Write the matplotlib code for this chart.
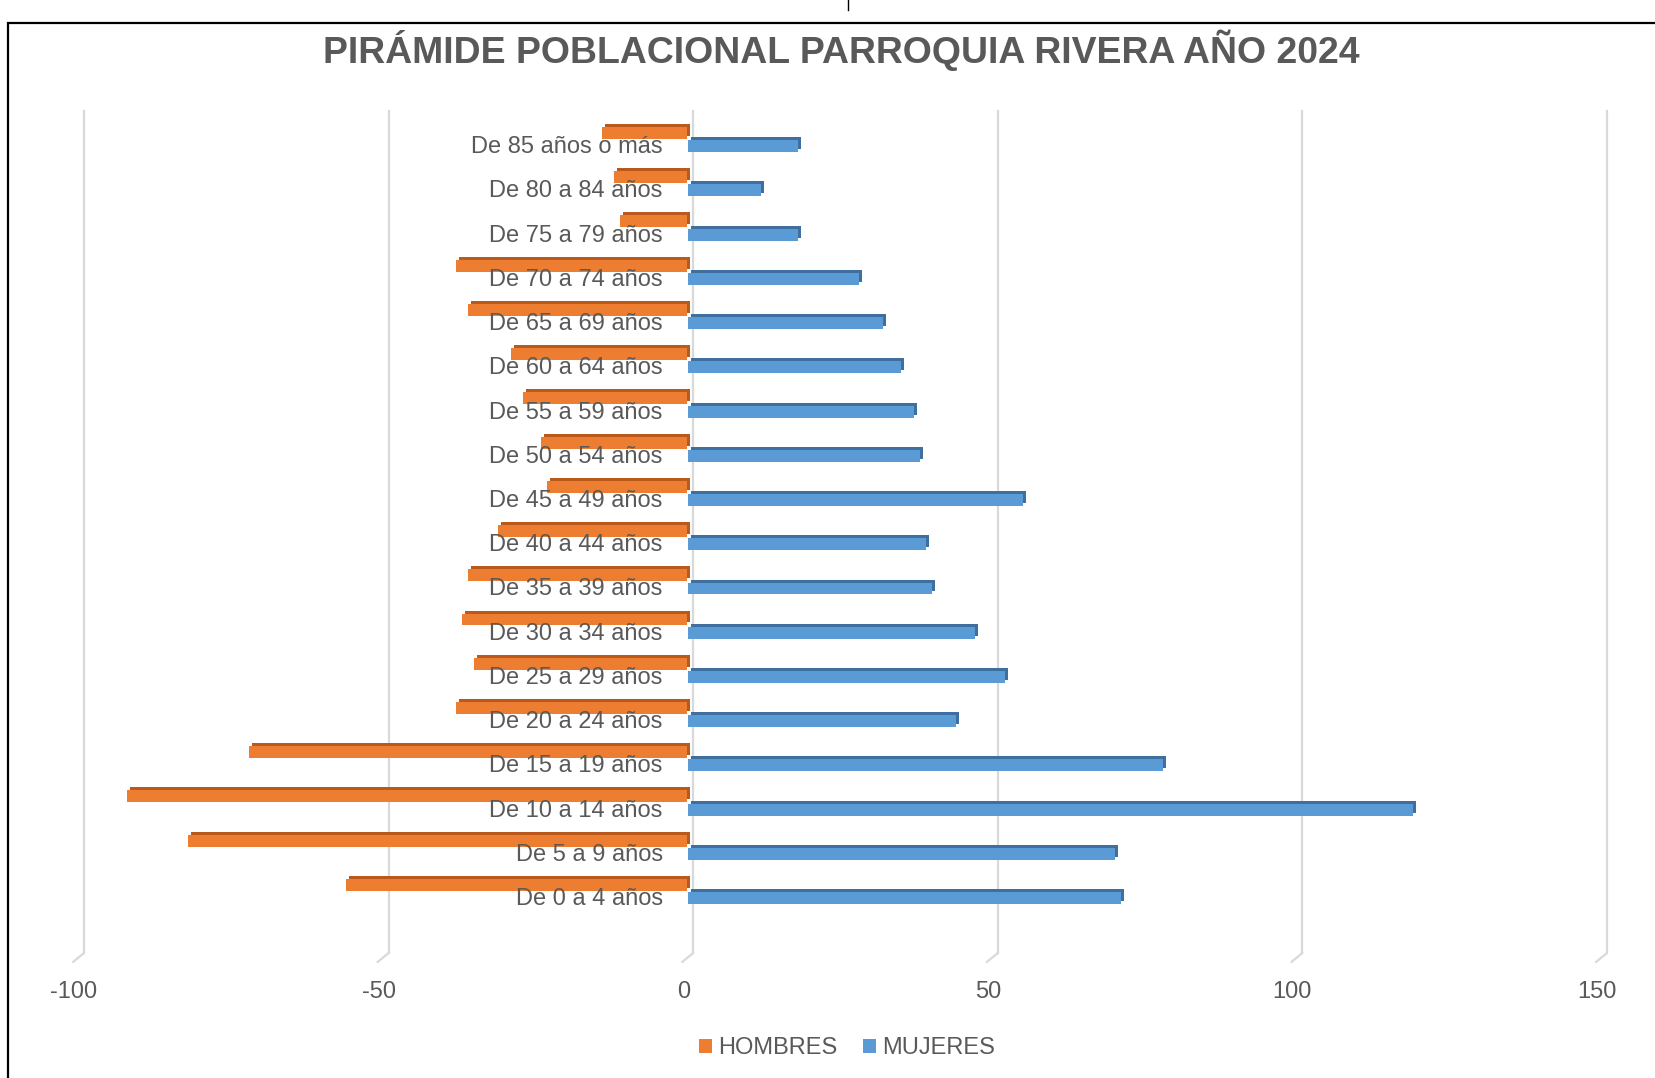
import numpy as np
import matplotlib.pyplot as plt
from matplotlib.patches import Rectangle
from matplotlib.lines import Line2D
from matplotlib.transforms import ScaledTranslation

plt.rcParams['font.family'] = ['Liberation Sans', 'DejaVu Sans']

# ---------------- datos (de abajo hacia arriba) ----------------
grupos = ["De 0 a 4 años", "De 5 a 9 años", "De 10 a 14 años", "De 15 a 19 años",
          "De 20 a 24 años", "De 25 a 29 años", "De 30 a 34 años", "De 35 a 39 años",
          "De 40 a 44 años", "De 45 a 49 años", "De 50 a 54 años", "De 55 a 59 años",
          "De 60 a 64 años", "De 65 a 69 años", "De 70 a 74 años", "De 75 a 79 años",
          "De 80 a 84 años", "De 85 años o más"]
hombres = [-56, -82, -92, -72, -38, -35, -37, -36, -31, -23, -24, -27, -29, -36, -38, -11, -12, -14]
mujeres = [71, 70, 119, 78, 44, 52, 47, 40, 39, 55, 38, 37, 35, 32, 28, 18, 12, 18]
xticks = [-100, -50, 0, 50, 100, 150]

gris = "#595959"
W, H = 1656, 1078

fig = plt.figure(figsize=(W / 100, H / 100), dpi=100)
ax = fig.add_axes([84 / W, 1 - 953 / H, (1607 - 84) / W, (953 - 111) / H])

# lineas de division con la "cola" 3D abajo
for t in xticks:
    ax.plot([t, t], [0, 1], transform=ax.get_xaxis_transform(), color="#d9d9d9",
            lw=1.6, zorder=0, clip_on=False)
    ax.annotate("", xy=(t, 0), xycoords=ax.get_xaxis_transform(),
                xytext=(-11, -9), textcoords="offset pixels",
                arrowprops=dict(arrowstyle="-", color="#d9d9d9", lw=1.6,
                                shrinkA=0, shrinkB=0))

# barras con un poco de profundidad
y = np.arange(len(grupos))
h = 0.27
px = lambda dx, dy: ScaledTranslation(dx / 100, dy / 100, fig.dpi_scale_trans)
series = [
    (hombres, 0.265, -6, "#ED7D31", "#B95A1C", "HOMBRES"),
    (mujeres, -0.035, -5, "#5B9BD5", "#3F6F9E", "MUJERES"),
]
handles = []
for vals, dy, sx, col, oscuro, lab in series:
    ax.barh(y + dy, vals, height=h, color=oscuro,
            transform=ax.transData + px(sx + 3, 3), zorder=2)
    b = ax.barh(y + dy, vals, height=h, color=col,
                transform=ax.transData + px(sx, 0), zorder=3, label=lab)
    handles.append(b)

ax.set_xlim(-100, 150)
ax.set_ylim(-1.275, 17.76)

ax.set_xticks(xticks)
ax.set_xticklabels([str(t) for t in xticks])
ax.tick_params(axis="x", length=0, pad=20.5, labelsize=17, labelcolor=gris)
for lbl in ax.get_xticklabels():
    lbl.set_transform(lbl.get_transform() + px(-10, 0))

ax.set_yticks(y)
ax.set_yticklabels(grupos)
ax.spines["left"].set_position(("data", 0))
ax.tick_params(axis="y", length=0, pad=22, labelsize=17, labelcolor=gris)
ax.yaxis.set_zorder(5)
for s in ax.spines.values():
    s.set_color("none")

# titulo
fig.text(841 / W, 1 - 50 / H, "PIRÁMIDE POBLACIONAL PARROQUIA RIVERA AÑO 2024",
         ha="center", va="center", fontsize=26.9, fontweight="bold", color=gris)

# leyenda
fig.legend(handles=handles, loc="center", bbox_to_anchor=(847 / W, 1 - 1048 / H),
           ncol=2, frameon=False, fontsize=17, labelcolor=gris,
           handlelength=0.55, handleheight=0.55, handletextpad=0.25, columnspacing=1.1)

# marco
fig.patches.append(Rectangle((8 / W, -0.01), 1.1, 1 - 23 / H + 0.01,
                             transform=fig.transFigure, fill=False, ec="black", lw=1.6))
fig.lines.append(Line2D([848 / W, 848 / W], [1, 1 - 10 / H], transform=fig.transFigure,
                        color="black", lw=1))

fig.savefig("out.png", dpi=100)
